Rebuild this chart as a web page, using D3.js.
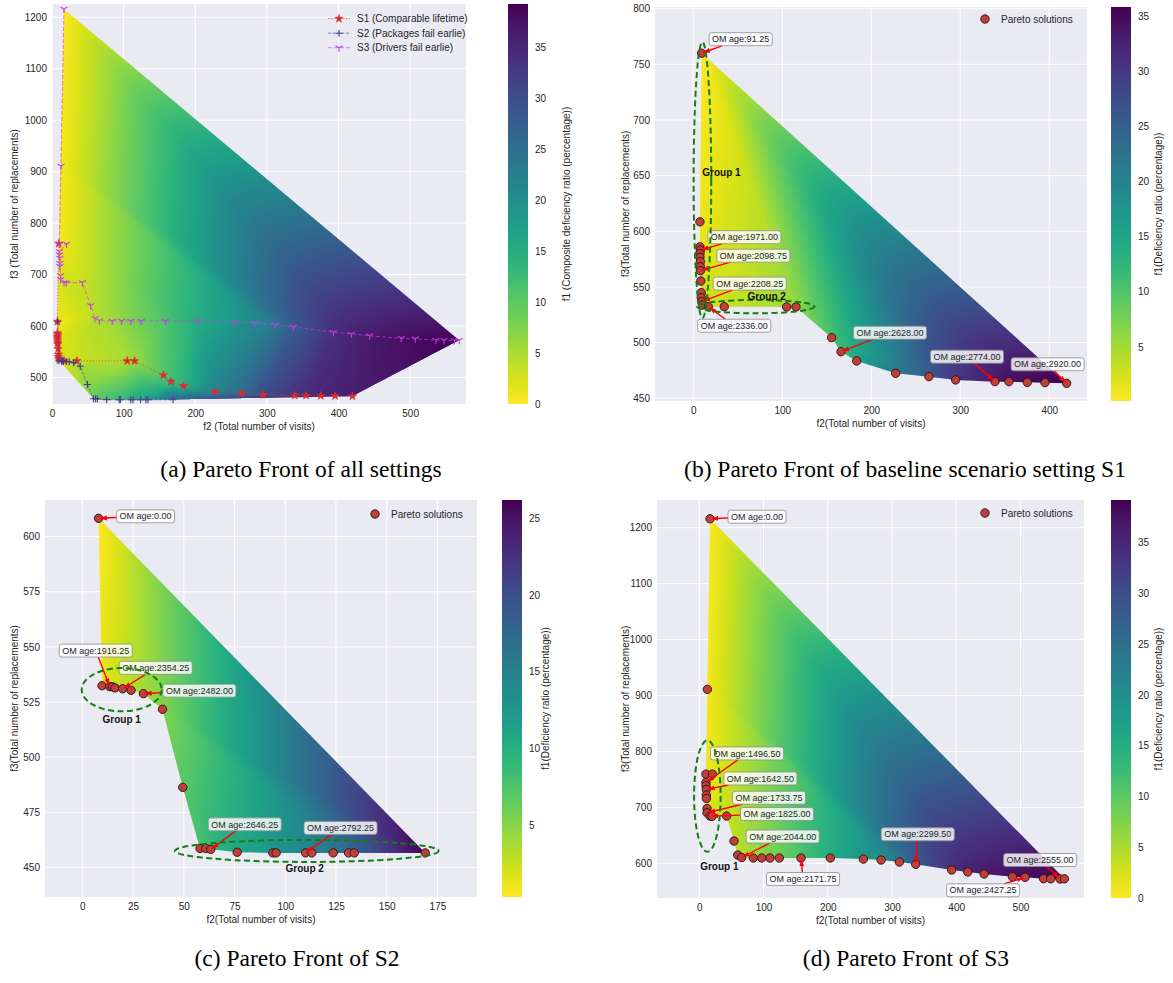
<!DOCTYPE html>
<html>
<head>
  <meta charset="utf-8">
  <title>Pareto Fronts</title>
  <script src="https://d3js.org/d3.v7.min.js"></script>
  <style>
    body { margin: 0; background: #fff; }
    svg text { font-family: "Liberation Sans", Arial, sans-serif; fill: #262626; }
    svg text.caption { font-family: "Liberation Serif", "Times New Roman", serif; fill: #000; }
    svg text.group { font-weight: bold; fill: #111; }
  </style>
</head>
<body>
  <div id="fig"></div>

  <script>
    // ---- S1 (comparable lifetime), shown alone in panel (b) ----
    var s1F2 = [9.4, 7.5, 7.5, 8, 7.5, 7.5, 8, 8, 8, 8.5, 9, 9, 9.5, 10.5, 16.9, 34.8, 104.9, 115.4,
                155.5, 166, 183.6, 227.4, 264.8, 294.8, 339, 354.7, 375.3, 395.2, 419.5];
    var s1F3 = [760, 608.5, 586, 583, 580, 576.6, 572.7, 568.2, 564.6, 555.3, 544.8, 540.3, 536.8, 533.8,
                532.2, 532.2, 532, 532, 504.4, 491.8, 483.5, 472.4, 469.4, 466.4, 464.9, 464.9, 464.3, 464, 463.4];
    var s1F1 = [0.1, 1.0, 1.3, 1.4, 1.5, 1.6, 1.8, 2.0, 2.1, 2.4, 2.8, 3.0, 3.2, 3.5, 2.5, 3.0, 5.0, 5.8,
                10.5, 12, 14, 21.5, 25.5, 30, 33.5, 34.3, 35, 35.5, 35.8];
    var s1LabelIdx = [0, 3, 8, 12, 14, 19, 24, 28];
    var s1LabelText = ['OM age:91.25', 'OM age:1971.00', 'OM age:2098.75', 'OM age:2208.25',
                       'OM age:2336.00', 'OM age:2628.00', 'OM age:2774.00', 'OM age:2920.00'];

    // ---- S2 (packages fail earlier), panel (c) ----
    var s2F2 = [8, 9.7, 13.5, 14.8, 16.1, 19.9, 24, 30.1, 39.5, 49.5, 58, 60.8, 63.3, 76.3, 93.9, 95.5,
                110, 113.1, 123.6, 131.2, 134, 169];
    var s2F3 = [608.3, 532.4, 532, 531.9, 531.4, 531, 530.3, 528.8, 521.7, 486.3, 458.6, 458.6, 458.2,
                456.9, 456.6, 456.6, 456.6, 456.6, 456.6, 456.6, 456.6, 456.6];
    var s2F1 = [0.3, 1.2, 1.8, 2.0, 2.2, 2.6, 3.1, 3.8, 5.2, 7, 8, 8.3, 8.7, 11, 12.5, 12.7, 14.4, 14.8,
                16.2, 17.4, 17.8, 26.2];
    var s2LabelIdx = [0, 2, 5, 7, 12, 16];
    var s2LabelText = ['OM age:0.00', 'OM age:1916.25', 'OM age:2354.25', 'OM age:2482.00',
                       'OM age:2646.25', 'OM age:2792.25'];

    // ---- S3 (drivers fail earlier), panel (d) ----
    var s3F2 = [16.7, 12.5, 10.4, 20.3, 10.4, 10.4, 11, 11, 11, 12, 12, 16.7, 19.8, 42.5, 54, 59.8, 66,
                84.1, 97.2, 110, 124.6, 158.4, 204, 255.5, 283, 311.5, 337, 393, 418, 443.5, 487.5, 507.3,
                536, 547.3, 561.8, 568.5];
    var s3F3 = [1216, 911, 759.5, 759.5, 744.6, 738.6, 732, 722, 716, 698, 690.4, 684.5, 684, 684.5,
                639.8, 614.8, 610.4, 609.5, 609.5, 609.5, 609.5, 609.5, 609.5, 607.5, 605.9, 602.3, 598.2,
                588, 584.5, 581, 576, 575, 572.5, 572.3, 572, 572.3];
    var s3F1 = [0, 0.5, 1.0, 1.3, 1.4, 1.5, 1.6, 1.8, 1.9, 2.2, 2.4, 2.7, 2.9, 3.2, 3.8, 4.3, 4.7, 5.6,
                6.5, 7.5, 8.7, 11, 15, 18.5, 20.5, 23.5, 28, 34, 35.5, 36.5, 37.8, 38.2, 38.7, 38.9, 39.1, 39.2];
    var s3LabelIdx = [0, 4, 6, 10, 11, 16, 21, 26, 31, 34];
    var s3LabelText = ['OM age:0.00', 'OM age:1496.50', 'OM age:1642.50', 'OM age:1733.75',
                       'OM age:1825.00', 'OM age:2044.00', 'OM age:2171.75', 'OM age:2299.50',
                       'OM age:2427.25', 'OM age:2555.00'];

    var settingNames = ['S1 (Comparable lifetime)', 'S2 (Packages fail earlie)', 'S3 (Drivers fail earlie)'];

    // tick values
    var xTicksA = [0, 100, 200, 300, 400, 500], yTicksA = [500, 600, 700, 800, 900, 1000, 1100, 1200];
    var xTicksB = [0, 100, 200, 300, 400],      yTicksB = [450, 500, 550, 600, 650, 700, 750, 800];
    var xTicksC = [0, 25, 50, 75, 100, 125, 150, 175], yTicksC = [450, 475, 500, 525, 550, 575, 600];
    var xTicksD = [0, 100, 200, 300, 400, 500], yTicksD = [600, 700, 800, 900, 1000, 1100, 1200];
    var cbTicksA = [0, 5, 10, 15, 20, 25, 30, 35], cbTicksB = [5, 10, 15, 20, 25, 30, 35];
    var cbTicksC = [5, 10, 15, 20, 25], cbTicksD = [0, 5, 10, 15, 20, 25, 30, 35];

    var W = 1173, H = 983;
    var svg = d3.select('#fig').append('svg')
        .attr('width', W).attr('height', H)
        .style('background', '#fff');
    var defs = svg.append('defs');

    defs.append('marker')
        .attr('id', 'arrow')
        .attr('viewBox', '0 0 10 10')
        .attr('refX', 9).attr('refY', 5)
        .attr('markerUnits', 'userSpaceOnUse')
        .attr('markerWidth', 7).attr('markerHeight', 7)
        .attr('orient', 'auto')
      .append('path')
        .attr('d', 'M0,1.5L10,5L0,8.5z')
        .attr('fill', 'red');

    // set up one axes box: background, grid, tick labels, axis titles
    function makeAxes(o) {
      var x = d3.scaleLinear().domain(o.xdom).range([o.x0, o.x1]);
      var y = d3.scaleLinear().domain(o.ydom).range([o.y1, o.y0]);
      var g = svg.append('g');

      g.append('rect')
          .attr('x', o.x0).attr('y', o.y0)
          .attr('width', o.x1 - o.x0).attr('height', o.y1 - o.y0)
          .attr('fill', '#eaeaf2');

      g.selectAll('.gx').data(o.xticks).enter().append('line')
          .attr('x1', function(d) { return x(d); }).attr('x2', function(d) { return x(d); })
          .attr('y1', o.y0).attr('y2', o.y1)
          .attr('stroke', '#fff').attr('stroke-width', 1);
      g.selectAll('.gy').data(o.yticks).enter().append('line')
          .attr('y1', function(d) { return y(d); }).attr('y2', function(d) { return y(d); })
          .attr('x1', o.x0).attr('x2', o.x1)
          .attr('stroke', '#fff').attr('stroke-width', 1);

      // Add the X Axis
      var ax = g.append('g')
          .attr('transform', 'translate(0,' + o.y1 + ')')
          .call(d3.axisBottom(x).tickValues(o.xticks).tickSize(0).tickPadding(6).tickFormat(d3.format('d')));
      ax.select('.domain').remove();
      ax.attr('font-size', 10);

      // Add the Y Axis
      var ay = g.append('g')
          .attr('transform', 'translate(' + o.x0 + ',0)')
          .call(d3.axisLeft(y).tickValues(o.yticks).tickSize(0).tickPadding(5).tickFormat(d3.format('d')));
      ay.select('.domain').remove();
      ay.attr('font-size', 10);

      g.append('text')
          .attr('x', (o.x0 + o.x1) / 2).attr('y', o.y1 + 22)
          .attr('dy', '0.35em')
          .attr('text-anchor', 'middle').attr('font-size', 10)
          .text(o.xlabel);
      g.append('text')
          .attr('transform', 'translate(' + o.ylabelX + ',' + ((o.y0 + o.y1) / 2) + ') rotate(-90)')
          .attr('dy', '0.35em')
          .attr('text-anchor', 'middle').attr('font-size', 10)
          .text(o.ylabel);

      return {g: g, x: x, y: y};
    }

    // interpolated f1 surface (linear on a Delaunay triangulation)
    // clipped to the front polygon, or to the hull when useHull is set
    var clipCount = 0;
    function surface(ax, f2, f3, f1, color, useHull) {
      var x = ax.x, y = ax.y;
      var left = x.range()[0], top = y.range()[1];
      var w = Math.round(x.range()[1] - left), h = Math.round(y.range()[0] - top);
      var dom = color.domain(), vmin = Math.min(dom[0], dom[1]), vmax = Math.max(dom[0], dom[1]);
      var lut = d3.range(256).map(function(i) { return d3.rgb(color(vmin + i / 255 * (vmax - vmin))); });

      var canvas = document.createElement('canvas');
      canvas.width = w; canvas.height = h;
      var ctx = canvas.getContext('2d');
      var img = ctx.createImageData(w, h);
      var best = new Float32Array(w * h).fill(-Infinity);

      var del = d3.Delaunay.from(f2.map(function(d, i) { return [d, f3[i]]; }));
      var px = f2.map(function(d) { return x(d) - left; });
      var py = f3.map(function(d) { return y(d) - top; });
      var t = del.triangles;
      for (var k = 0; k < t.length; k += 3) {
        var a = t[k], b = t[k + 1], c = t[k + 2];
        var x1 = px[a], y1 = py[a], x2 = px[b], y2 = py[b], x3 = px[c], y3 = py[c];
        var det = (y2 - y3) * (x1 - x3) + (x3 - x2) * (y1 - y3);
        if (Math.abs(det) < 1e-9) continue;
        var mx0 = Math.max(0, Math.floor(Math.min(x1, x2, x3)) - 2), mx1 = Math.min(w - 1, Math.ceil(Math.max(x1, x2, x3)) + 2);
        var my0 = Math.max(0, Math.floor(Math.min(y1, y2, y3)) - 2), my1 = Math.min(h - 1, Math.ceil(Math.max(y1, y2, y3)) + 2);
        for (var j = my0; j <= my1; j++) {
          var Y = j + 0.5;
          for (var i = mx0; i <= mx1; i++) {
            var X = i + 0.5;
            var l1 = ((y2 - y3) * (X - x3) + (x3 - x2) * (Y - y3)) / det;
            var l2 = ((y3 - y1) * (X - x3) + (x1 - x3) * (Y - y3)) / det;
            var l3 = 1 - l1 - l2;
            var m = Math.min(l1, l2, l3);
            var p = j * w + i;
            if (m < -0.08 || m <= best[p]) continue;
            best[p] = m;
            var v = l1 * f1[a] + l2 * f1[b] + l3 * f1[c];
            var q = Math.max(0, Math.min(255, Math.round((v - vmin) / (vmax - vmin) * 255)));
            var col = lut[q];
            img.data[p * 4] = col.r; img.data[p * 4 + 1] = col.g; img.data[p * 4 + 2] = col.b; img.data[p * 4 + 3] = 255;
          }
        }
      }
      ctx.putImageData(img, 0, 0);

      var id = 'front' + (clipCount++);
      var d;
      if (useHull) {
        d = 'M' + Array.from(del.hull).map(function(k) { return x(f2[k]) + ',' + y(f3[k]); }).join('L') + 'Z';
      } else {
        d = d3.line()
            .x(function(v, i) { return x(f2[i]); })
            .y(function(v, i) { return y(f3[i]); })(f2) + 'Z';
      }
      defs.append('clipPath').attr('id', id).append('path').attr('d', d);

      ax.g.append('image')
          .attr('x', left).attr('y', top)
          .attr('width', w).attr('height', h)
          .attr('preserveAspectRatio', 'none')
          .attr('href', canvas.toDataURL())
          .attr('clip-path', 'url(#' + id + ')');
    }

    // vertical colorbar
    var gradCount = 0;
    function colorbar(x0, y0, y1, color, ticks, label, labelX) {
      var dom = color.domain(), vmin = Math.min(dom[0], dom[1]), vmax = Math.max(dom[0], dom[1]);
      var id = 'cbar' + (gradCount++);
      var grad = defs.append('linearGradient').attr('id', id)
          .attr('x1', 0).attr('y1', 1).attr('x2', 0).attr('y2', 0);
      d3.range(21).forEach(function(i) {
        grad.append('stop').attr('offset', i / 20).attr('stop-color', color(vmin + i / 20 * (vmax - vmin)));
      });
      svg.append('rect')
          .attr('x', x0).attr('y', y0).attr('width', 20).attr('height', y1 - y0)
          .attr('fill', 'url(#' + id + ')');
      var s = d3.scaleLinear().domain([vmin, vmax]).range([y1, y0]);
      var a = svg.append('g')
          .attr('transform', 'translate(' + (x0 + 20) + ',0)')
          .call(d3.axisRight(s).tickValues(ticks).tickSize(0).tickPadding(7).tickFormat(d3.format('d')));
      a.select('.domain').remove();
      a.attr('font-size', 10);
      svg.append('text')
          .attr('transform', 'translate(' + labelX + ',' + ((y0 + y1) / 2) + ') rotate(-90)')
          .attr('dy', '0.35em')
          .attr('text-anchor', 'middle').attr('font-size', 10)
          .text(label);
    }

    function paretoPoints(ax, f2, f3) {
      ax.g.selectAll('.pt').data(f2).enter().append('circle')
          .attr('cx', function(d) { return ax.x(d); })
          .attr('cy', function(d, i) { return ax.y(f3[i]); })
          .attr('r', 4.2)
          .attr('fill', '#bf3f3a')
          .attr('stroke', '#2b0f0f').attr('stroke-width', 0.9);
    }

    function paretoLegend(cx, cy) {
      svg.append('circle').attr('cx', cx).attr('cy', cy).attr('r', 4.2)
          .attr('fill', '#bf3f3a').attr('stroke', '#2b0f0f').attr('stroke-width', 0.9);
      svg.append('text').attr('x', cx + 16).attr('y', cy).attr('dy', '0.35em')
          .attr('font-size', 10).text('Pareto solutions');
    }

    // red arrows with boxed labels
    function annotate(ax, f2, f3, idx, texts, offs) {
      idx.forEach(function(k, n) {
        var px = ax.x(f2[k]), py = ax.y(f3[k]);
        var cx = px + offs[n][0], cy = py + offs[n][1];
        var g = ax.g.append('g');
        var line = g.append('line');
        var rect = g.append('rect');
        var txt = g.append('text')
            .attr('x', cx).attr('y', cy).attr('dy', '0.35em')
            .attr('text-anchor', 'middle').attr('font-size', 9)
            .text(texts[n]);
        var bw = txt.node().getComputedTextLength() + 6, bh = 13;
        rect.attr('x', cx - bw / 2).attr('y', cy - bh / 2)
            .attr('width', bw).attr('height', bh).attr('rx', 2.5)
            .attr('fill', '#fff').attr('fill-opacity', 0.82)
            .attr('stroke', '#8c8c8c').attr('stroke-width', 0.8);
        var dx = px - cx, dy = py - cy;
        var s = Math.min(dx === 0 ? Infinity : (bw / 2) / Math.abs(dx), dy === 0 ? Infinity : (bh / 2) / Math.abs(dy));
        var len = Math.sqrt(dx * dx + dy * dy);
        line.attr('x1', cx + dx * s).attr('y1', cy + dy * s)
            .attr('x2', px - dx / len * 2).attr('y2', py - dy / len * 2)
            .attr('stroke', 'red').attr('stroke-width', 1.4)
            .attr('marker-end', 'url(#arrow)');
      });
    }

    function groupEllipse(ax, e) {
      var cx = ax.x(e.cx), cy = ax.y(e.cy);
      ax.g.append('ellipse')
          .attr('cx', cx).attr('cy', cy)
          .attr('rx', Math.abs(ax.x(e.cx + e.rx) - cx)).attr('ry', Math.abs(ax.y(e.cy + e.ry) - cy))
          .attr('fill', 'none')
          .attr('stroke', '#118011').attr('stroke-width', 2)
          .attr('stroke-dasharray', '6,3.5');
      ax.g.append('text').attr('class', 'group')
          .attr('x', cx + e.tx).attr('y', cy + e.ty).attr('dy', '0.35em')
          .attr('text-anchor', 'middle').attr('font-size', 10)
          .text(e.text);
    }

    function scaleFor(values) {
      var ext = d3.extent(values);
      return d3.scaleSequential(d3.interpolateViridis).domain([ext[1], ext[0]]);
    }

    // ================= (a) all settings =================
    var axA = makeAxes({x0: 52, x1: 466, y0: 4, y1: 404, xdom: [0, 578], ydom: [448.4, 1225.7],
                        xticks: xTicksA, yticks: yTicksA, ylabelX: 14,
                        xlabel: 'f2 (Total number of visits)', ylabel: 'f3 (Total number of replacements)'});
    var allF2 = s1F2.concat(s2F2, s3F2), allF3 = s1F3.concat(s2F3, s3F3), allF1 = s1F1.concat(s2F1, s3F1);
    var colorA = scaleFor(allF1);
    surface(axA, allF2, allF3, allF1, colorA, true);

    var setF2 = [s1F2, s2F2, s3F2], setF3 = [s1F3, s2F3, s3F3];
    var setColor = ['#dc2a2e', '#483d8b', '#c43ce6'];
    var setDash = ['1.5,1.5', '3,1.5', '4,2'];
    var setMarker = [
      d3.symbol().type(d3.symbolStar).size(22)(),
      'M-3.5,0H3.5M0,-3.5V3.5',
      'M0,0V4M0,0L-3.5,-2M0,0L3.5,-2'
    ];

    function drawMarker(sel, s) {
      sel.attr('d', setMarker[s])
          .attr('fill', s === 0 ? setColor[s] : 'none')
          .attr('stroke', setColor[s])
          .attr('stroke-width', s === 0 ? 0.5 : 1.1);
    }

    [0, 1, 2].forEach(function(s) {
      var f2 = setF2[s], f3 = setF3[s];
      var line = d3.line()
          .x(function(d) { return axA.x(d); })
          .y(function(d, i) { return axA.y(f3[i]); });
      axA.g.append('path').datum(f2)
          .attr('d', line)
          .attr('fill', 'none')
          .attr('stroke', setColor[s]).attr('stroke-opacity', 0.7)
          .attr('stroke-width', 0.9).attr('stroke-dasharray', setDash[s]);
      axA.g.selectAll('.m' + s).data(f2).enter().append('path')
          .attr('transform', function(d, i) { return 'translate(' + axA.x(d) + ',' + axA.y(f3[i]) + ')'; })
          .call(drawMarker, s);
    });

    // legend of (a)
    settingNames.forEach(function(name, s) {
      var ly = 18.7 + s * 14.5;
      svg.append('line').attr('x1', 328).attr('x2', 350).attr('y1', ly).attr('y2', ly)
          .attr('stroke', setColor[s]).attr('stroke-opacity', 0.7)
          .attr('stroke-width', 0.9).attr('stroke-dasharray', setDash[s]);
      svg.append('path').attr('transform', 'translate(339,' + ly + ')').call(drawMarker, s);
      svg.append('text').attr('x', 357).attr('y', ly).attr('dy', '0.35em')
          .attr('font-size', 10).text(name);
    });

    colorbar(508, 4, 404, colorA, cbTicksA, 'f1 (Composite deficiency ratio (percentage))', 566);

    // ================= (b) S1 =================
    var axB = makeAxes({x0: 655, x1: 1087, y0: 7, y1: 401, xdom: [-43, 442.4], ydom: [447.5, 801.5],
                        xticks: xTicksB, yticks: yTicksB, ylabelX: 625,
                        xlabel: 'f2(Total number of visits)', ylabel: 'f3(Total number of replacements)'});
    var colorB = scaleFor(s1F1);
    surface(axB, s1F2, s1F3, s1F1, colorB, false);
    paretoPoints(axB, s1F2, s1F3);
    annotate(axB, s1F2, s1F3, s1LabelIdx, s1LabelText,
             [[39, -14], [44, -13], [53, -15], [48, -18], [26, 19], [49, -19], [-28, -25], [-19, -19]]);
    groupEllipse(axB, {cx: 10.3, cy: 646, rx: 9.9, ry: 124, text: 'Group 1', tx: 19, ty: -8});
    groupEllipse(axB, {cx: 70.2, cy: 532.3, rx: 66, ry: 6, text: 'Group 2', tx: 11, ty: -10});
    paretoLegend(985, 19);
    colorbar(1111, 7, 401, colorB, cbTicksB, 'f1(Deficiency ratio (percentage))', 1158);

    // ================= (c) S2 =================
    var axC = makeAxes({x0: 45, x1: 477, y0: 500, y1: 897, xdom: [-18.4, 194.5], ydom: [436.6, 616.6],
                        xticks: xTicksC, yticks: yTicksC, ylabelX: 14,
                        xlabel: 'f2(Total number of visits)', ylabel: 'f3(Total number of replacements)'});
    var colorC = scaleFor(s2F1);
    surface(axC, s2F2, s2F3, s2F1, colorC, false);
    paretoPoints(axC, s2F2, s2F3);
    annotate(axC, s2F2, s2F3, s2LabelIdx, s2LabelText,
             [[47, -2], [-14, -36], [33, -21], [56, -3], [34, -25], [35, -25]]);
    groupEllipse(axC, {cx: 19.4, cy: 530.6, rx: 19.7, ry: 9.8, text: 'Group 1', tx: 0, ty: 30});
    groupEllipse(axC, {cx: 110.6, cy: 457.5, rx: 65, ry: 5, text: 'Group 2', tx: -2, ty: 18});
    paretoLegend(375, 514);
    colorbar(502, 500, 897, colorC, cbTicksC, 'f1(Deficiency ratio (percentage))', 545);

    // ================= (d) S3 =================
    var axD = makeAxes({x0: 657, x1: 1084, y0: 500, y1: 898, xdom: [-65.9, 599], ydom: [538, 1249.5],
                        xticks: xTicksD, yticks: yTicksD, ylabelX: 625,
                        xlabel: 'f2(Total number of visits)', ylabel: 'f3(Total number of replacements)'});
    var colorD = scaleFor(s3F1);
    surface(axD, s3F2, s3F3, s3F1, colorD, false);
    paretoPoints(axD, s3F2, s3F3);
    annotate(axD, s3F2, s3F3, s3LabelIdx, s3LabelText,
             [[47, -2], [41, -29], [54, -11], [62, -15], [67, -2], [41, -21], [2, 21], [2, -30], [-42, 13], [-20, -19]]);
    groupEllipse(axD, {cx: 12.5, cy: 720.2, rx: 20.7, ry: 99.6, text: 'Group 1', tx: 12, ty: 70});
    paretoLegend(985, 513);
    colorbar(1111, 500, 898, colorD, cbTicksD, 'f1(Deficiency ratio (percentage))', 1158);

    // captions
    var captions = ['(a) Pareto Front of all settings', '(b) Pareto Front of baseline scenario setting S1',
                    '(c) Pareto Front of S2', '(d) Pareto Front of S3'];
    var capPos = [[301, 469], [905, 469], [297, 958], [906, 958]];
    captions.forEach(function(c, i) {
      svg.append('text').attr('class', 'caption')
          .attr('x', capPos[i][0]).attr('y', capPos[i][1]).attr('dy', '0.35em')
          .attr('text-anchor', 'middle').attr('font-size', 23.5)
          .text(c);
    });
  </script>
</body>
</html>
